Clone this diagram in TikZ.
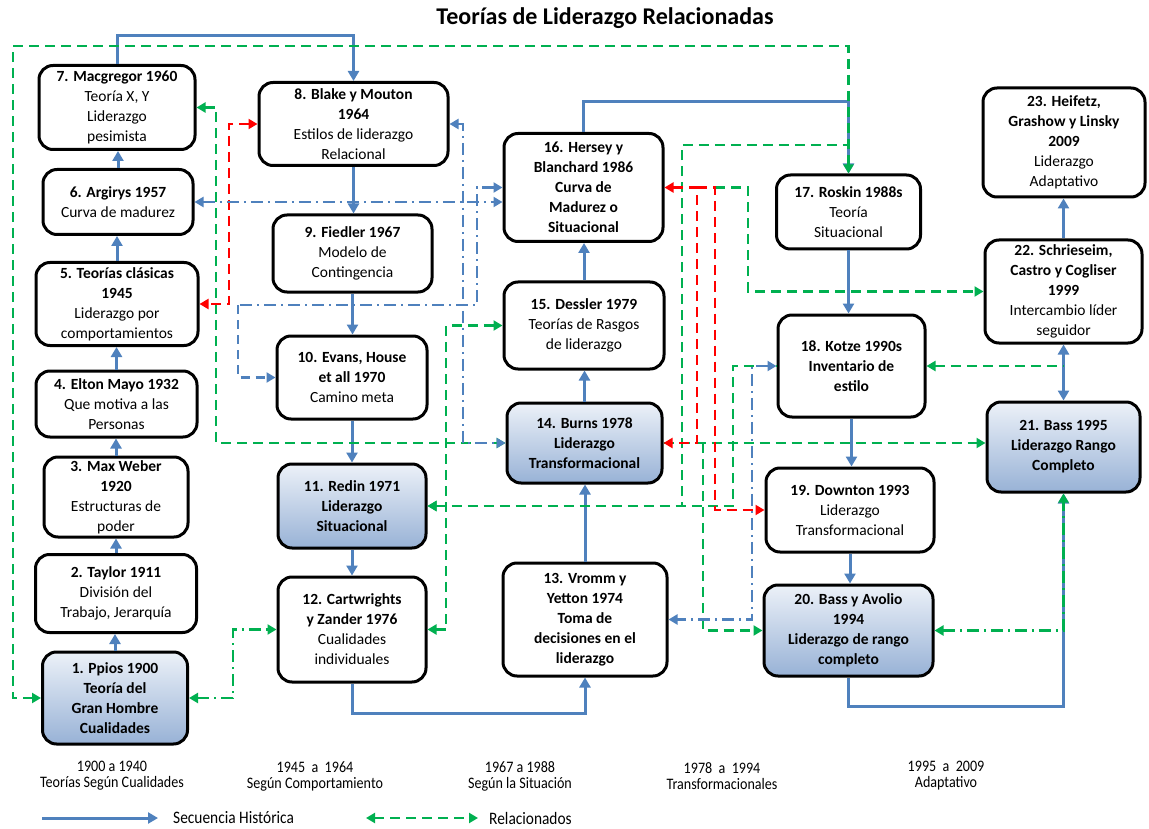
\documentclass[tikz,border=0pt]{standalone}
\usepackage{fontspec}
\setmainfont{Carlito}
\newfontfamily\narrowfont{Carlito}[FakeStretch=0.88]
\usetikzlibrary{arrows.meta}
\definecolor{histblue}{RGB}{79,129,189}
\definecolor{relgreen}{RGB}{0,176,80}
\definecolor{relred}{RGB}{255,0,0}
\definecolor{shadetop}{RGB}{236,241,248}
\definecolor{shadebot}{RGB}{152,178,214}

\begin{document}
\begin{tikzpicture}[x=1pt,y=-1pt,
  box/.style={draw=black, line width=3pt, rounded corners=14pt, fill=white,
    align=center, inner sep=0pt, font=\fontsize{15.5}{20}\selectfont},
  keybox/.style={box, top color=shadetop, bottom color=shadebot},
  sz/.style 2 args={minimum width=#1pt, minimum height=#2pt},
  hist/.style={draw=histblue, line width=3pt, >={Triangle[length=10pt,width=11pt]}, ->},
  rel/.style={draw=relgreen, line width=2.5pt, dash pattern=on 10pt off 6pt,
    >={Triangle[length=9pt,width=10pt]}},
  reldd/.style={draw=relgreen, line width=2.5pt, dash pattern=on 12pt off 5pt on 2pt off 5pt,
    >={Triangle[length=9pt,width=10pt]}},
  redd/.style={draw=relred, line width=2.5pt, dash pattern=on 10pt off 6pt,
    >={Triangle[length=9pt,width=10pt]}},
  bdd/.style={draw=histblue, line width=2.3pt, dash pattern=on 12pt off 5pt on 2pt off 5pt,
    >={Triangle[length=9pt,width=10pt]}},
  bdash/.style={draw=histblue, line width=2.3pt, dash pattern=on 9pt off 6pt,
    >={Triangle[length=9pt,width=10pt]}},
  era/.style={align=center, inner sep=0pt, font=\narrowfont\fontsize{16}{16}\selectfont},
  legend/.style={anchor=west, inner sep=0pt, font=\narrowfont\fontsize{17.5}{20}\selectfont}
]
\fill[white] (0,0) rectangle (1149,829);
\useasboundingbox (0,0) rectangle (1149,829);

\node (title) at (605,18) {\fontsize{24}{28}\selectfont\bfseries Teorías de Liderazgo Relacionadas};

% first column: 1900 to 1960
\node[keybox, sz={145}{92}] (n1) at (115,698) {\textbf{1. Ppios 1900}\\\textbf{Teoría del}\\\textbf{Gran Hombre}\\\textbf{Cualidades}};
\node[box, sz={161}{78}] (n2) at (116,593.5) {\textbf{2. Taylor 1911}\\División del\\Trabajo, Jerarquía};
\node[box, sz={144}{80}] (n3) at (116,497) {\textbf{3. Max Weber}\\\textbf{1920}\\Estructuras de\\poder};
\node[box, sz={161}{66}] (n4) at (116.5,404) {\textbf{4. Elton Mayo 1932}\\Que motiva a las\\Personas};
\node[box, sz={162}{83}] (n5) at (117,304) {\textbf{5. Teorías clásicas}\\\textbf{1945}\\Liderazgo por\\comportamientos};
\node[box, sz={150}{65}] (n6) at (118,202) {\textbf{6. Argirys 1957}\\Curva de madurez};
\node[box, sz={156}{84}] (n7) at (117,107.5) {\textbf{7. Macgregor 1960}\\Teoría X, Y\\Liderazgo\\pesimista};

% second column
\node[box, sz={189}{83}] (n8) at (353.5,124) {\textbf{8. Blake y Mouton}\\\textbf{1964}\\Estilos de liderazgo\\Relacional};
\node[box, sz={159}{77}] (n9) at (352.5,253.5) {\textbf{9. Fiedler 1967}\\Modelo de\\Contingencia};
\node[box, sz={150}{83}] (n10) at (352,377.5) {\textbf{10. Evans, House}\\\textbf{et all 1970}\\Camino meta};
\node[keybox, sz={148}{84}] (n11) at (352,506) {\textbf{11. Redin 1971}\\\textbf{Liderazgo}\\\textbf{Situacional}};
\node[box, sz={148}{105}] (n12) at (352,629.5) {\textbf{12. Cartwrights}\\\textbf{y Zander 1976}\\Cualidades\\individuales};

% third column
\node[box, sz={164}{113}] (n13) at (585,619.5) {\textbf{13. Vromm y}\\\textbf{Yetton 1974}\\\textbf{Toma de}\\\textbf{decisiones en el}\\\textbf{liderazgo}};
\node[keybox, sz={155}{80}] (n14) at (584.5,443) {\textbf{14. Burns 1978}\\\textbf{Liderazgo}\\\textbf{Transformacional}};
\node[box, sz={160}{87}] (n15) at (584,325.5) {\textbf{15. Dessler 1979}\\Teorías de Rasgos\\de liderazgo};
\node[box, sz={159}{108}] (n16) at (583.5,187.5) {\textbf{16. Hersey y}\\\textbf{Blanchard 1986}\\\textbf{Curva de}\\\textbf{Madurez o}\\\textbf{Situacional}};

% fourth column
\node[box, sz={144}{74}] (n17) at (848.5,212) {\textbf{17. Roskin 1988s}\\Teoría\\Situacional};
\node[box, sz={147}{102}] (n18) at (851.5,366) {\textbf{18. Kotze 1990s}\\\textbf{Inventario de}\\\textbf{estilo}};
\node[box, sz={168}{84}] (n19) at (850,510) {\textbf{19. Downton 1993}\\Liderazgo\\Transformacional};
\node[keybox, sz={169}{91}] (n20) at (848.5,630.5) {\textbf{20. Bass y Avolio}\\\textbf{1994}\\\textbf{Liderazgo de rango}\\\textbf{completo}};

% fifth column
\node[keybox, sz={153}{90}] (n21) at (1063.5,447) {\textbf{21. Bass 1995}\\\textbf{Liderazgo Rango}\\\textbf{Completo}};
\node[box, sz={157}{103}] (n22) at (1063.5,291.5) {\textbf{22. Schrieseim,}\\\textbf{Castro y Cogliser}\\\textbf{1999}\\Intercambio líder\\seguidor};
\node[box, sz={162}{109}] (n23) at (1064,142.5) {\textbf{23. Heifetz,}\\\textbf{Grashow y Linsky}\\\textbf{2009}\\Liderazgo\\Adaptativo};

% routing columns and rows
\coordinate (r36) at (0,36);
\coordinate (r46) at (0,46);
\coordinate (r102) at (0,102);
\coordinate (r145) at (0,145);
\coordinate (r305) at (0,305);
\coordinate (r706) at (0,706);
\coordinate (r713) at (0,713);
\coordinate (c13) at (13,0);
\coordinate (c216) at (216,0);
\coordinate (c229) at (229,0);
\coordinate (c233) at (233,0);
\coordinate (c238) at (238,0);
\coordinate (c446) at (446,0);
\coordinate (c463) at (463,0);
\coordinate (c477) at (477,0);
\coordinate (c682) at (682,0);
\coordinate (c697) at (697,0);
\coordinate (c703) at (703,0);
\coordinate (c715) at (715,0);
\coordinate (c733) at (733,0);
\coordinate (c748) at (748,0);
\coordinate (c752) at (752,0);

% historical sequence
\foreach \a/\b in {n1/n2,n2/n3,n3/n4,n4/n5,n5/n6,n6/n7,n13/n14,n14/n15,n15/n16,n22/n23}
  \draw[hist] (\a.north) -- (\a.north |- \b.south);
\foreach \a/\b in {n8/n9,n9/n10,n10/n11,n11/n12,n17/n18,n18/n19,n19/n20}
  \draw[hist] (\a.south) -- (\a.south |- \b.north);
\draw[hist] (n7.north) -- (n7.north |- r36) -| (n8.north);
\draw[hist] (n12.south) -- (n12.south |- r713) -| (n13.south);
\draw[hist] (n16.north) -- (n16.north |- r102) -| (n17.north);
\draw[hist] (n20.south) -- (n20.south |- r706) -| (n21.south);
\draw[hist,<->] (n21.north) -- (n21.north |- n22.south);

% related theories (green)
\draw[rel,<->] (n1.west) -| (c13 |- r46) -| (n17.north);
\draw[rel,<->] (n7.east) -| (c216 |- n14.west) -- (n14.west);
\draw[rel,<->] (n12.east) -| (c446 |- n15.west) -- (n15.west);
\draw[rel,<-] (n11.east) -| (c682 |- r145) -- (n17.north |- r145);
\draw[rel,<-] (n11.east) -| (c733 |- n18.west) -- (n18.west);
\draw[rel,->] (c715 |- n16.east) -| (c748 |- n22.west) -- (n22.west);
\draw[rel,->] (n14.east) -- (n14.east -| n21.west);
\draw[rel,->] (c703 |- n14.east) |- (n20.west);
\draw[rel,<-] (n18.east) -- (n18.east -| n22.south);
\draw[reldd,<->] (n1.east) -| (c233 |- n12.west) -- (n12.west);
\draw[reldd,<->] (n20.east) -| (n21.south);

% related theories (red)
\draw[redd,<->] (n8.west) -| (c229 |- n5.east) -- (n5.east);
\draw[redd,<->] (n16.east) -| (c697 |- n14.east) -- (n14.east);
\draw[redd,->] (c697 |- n16.east) -| (c715 |- n19.west) -- (n19.west);

% related theories (blue dash-dot)
\draw[bdd,<->] (n6.east) -- (n6.east -| n16.west);
\draw[bdd,<->] (n8.east) -| (c463 |- n14.west) -- (n14.west);
\draw[bdd,<-] (n16.west) -| (c477 |- r305) -- (c238 |- r305);
\draw[bdash,->] (c238 |- r305) |- (n10.west);
\draw[bdd,<->] (n18.west) -| (c752 |- n13.east) -- (n13.east);

% periods
\node[era] (e1) at (112,776) {1900 a 1940\\Teorías Según Cualidades};
\node[era] (e2) at (315,776) {1945 ~a~ 1964\\Según Comportamiento};
\node[era] (e3) at (520,776) {1967 a 1988\\Según la Situación};
\node[era] (e4) at (722,776) {1978 ~a~ 1994\\Transformacionales};
\node[era] (e5) at (946,776) {1995 ~a~ 2009\\Adaptativo};

% legend
\coordinate (lg1) at (42,818);
\coordinate (lg2) at (158,818);
\coordinate (lg3) at (366,818);
\coordinate (lg4) at (478,818);
\draw[hist] (lg1) -- (lg2);
\node[legend] (lgt1) at (173,818) {Secuencia Histórica};
\draw[rel,<->] (lg3) -- (lg4);
\node[legend] (lgt2) at (489,818) {Relacionados};
\end{tikzpicture}
\end{document}
